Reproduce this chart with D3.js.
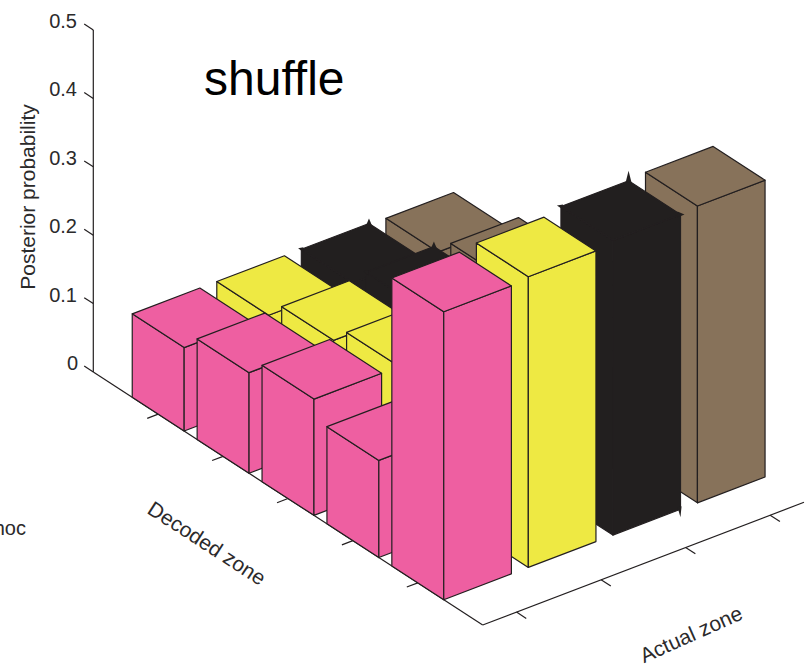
<!DOCTYPE html>
<html><head><meta charset="utf-8">
<script src="https://cdn.jsdelivr.net/npm/d3@7"></script>
<style>html,body{margin:0;padding:0;background:#fff;overflow:hidden}svg{display:block}text{font-family:"Liberation Sans",Arial,sans-serif;fill:#2b2a2b}</style>
</head><body><div id="c"></div>
<script>
const decodedZones = [1, 2, 3, 4, 5];
const actualZones = [1, 2, 3, 4];
const pinkValues   = [0.122, 0.147, 0.170, 0.142, 0.421];
const yellowValues = [0.122, 0.147, 0.171, 0.142, 0.425];
const blackValues  = [0.122, 0.150, 0.170, 0.142, 0.431];
const brownValues  = [0.120, 0.145, 0.170, 0.142, 0.434];
const seriesColors = ["#ee5fa1", "#eee943", "#221f1f", "#87725a"];
const zTicks = [0, 0.1, 0.2, 0.3, 0.4, 0.5];
const zTickLabels = ["0", "0.1", "0.2", "0.3", "0.4", "0.5"];
const titleText = "shuffle", zLabel = "Posterior probability", decodedLabel = "Decoded zone", actualLabel = "Actual zone", strayText = "hoc";
const seriesValues = [pinkValues, yellowValues, blackValues, brownValues];

const W = 806, H = 669, barHalf = 0.4, lineCol = "#231f20";
const svg = d3.select("#c").append("svg").attr("width", W).attr("height", H);

// oblique projection, built from one linear scale per screen contribution
const decX = d3.scaleLinear().domain([0, 6]).range([0, 389.4]);
const decY = d3.scaleLinear().domain([0, 6]).range([0, 253]);
const actX = d3.scaleLinear().domain([0.6, 4.4]).range([0, 321.3]);
const actY = d3.scaleLinear().domain([0.6, 4.4]).range([0, -122.7]);
const zY = d3.scaleLinear().domain([0, 0.5]).range([0, -342]);
const ox = 93.3, oy = 372;
const proj = (d, a, z) => [ox + decX(d) + actX(a), oy + decY(d) + actY(a) + zY(z)];
const poly = pts => "M" + pts.map(p => p.join(",")).join("L") + "Z";
const seg = (g, p, q, w) => g.append("line").attr("x1", p[0]).attr("y1", p[1]).attr("x2", q[0]).attr("y2", q[1])
  .attr("stroke", lineCol).attr("stroke-width", w || 1.2);

// axes
const ax = svg.append("g");
seg(ax, proj(0, 0.6, 0), proj(0, 0.6, 0.5));
seg(ax, proj(0, 0.6, 0), proj(6, 0.6, 0));
seg(ax, proj(6, 0.6, 0), proj(6, 4.4, 0));
zTicks.forEach((t, i) => {
  const p = proj(0, 0.6, t);
  seg(ax, p, proj(-0.14, 0.6, t));
  ax.append("text").attr("x", i === 0 ? 78 : 77).attr("y", p[1] - 2).attr("text-anchor", "end")
    .attr("font-size", 20).text(zTickLabels[i]);
});
decodedZones.forEach(d => seg(ax, proj(d, 0.6, 0), proj(d, 0.47, 0)));
actualZones.forEach(a => seg(ax, proj(6, a, 0), proj(6.15, a, 0)));

// bars, far to near
const bars = svg.append("g");
actualZones.slice().reverse().forEach(a => {
  const s = a - 1, col = seriesColors[s];
  decodedZones.forEach((d, j) => {
    const v = seriesValues[s][j];
    const d0 = d - barHalf, d1 = d + barHalf, a0 = a - barHalf, a1 = a + barHalf;
    const faces = [
      [proj(d0, a0, 0), proj(d1, a0, 0), proj(d1, a0, v), proj(d0, a0, v)],
      [proj(d1, a0, 0), proj(d1, a1, 0), proj(d1, a1, v), proj(d1, a0, v)],
      [proj(d0, a0, v), proj(d1, a0, v), proj(d1, a1, v), proj(d0, a1, v)]
    ];
    const g = bars.append("g");
    faces.forEach(f => g.append("path").attr("d", poly(f)).attr("fill", col)
      .attr("stroke", lineCol).attr("stroke-width", 1.2).attr("stroke-linejoin", "round"));
    if (col === "#221f1f") {
      // the black bars' outlines end in small sharp spikes at their corners
      const L = v > 0.3 ? 10 : 5, S = v > 0.3 ? 1 : 0.8;
      const [bx, by] = proj(d0, a1, v), [lx, ly] = proj(d0, a0, v), [rx, ry] = proj(d1, a1, v), [fx, fy] = proj(d1, a1, 0);
      const spikes = [
        [[bx - 3, by + 2], [bx, by - L], [bx + 3, by + 2]],
        [[lx + 2, ly - 2], [lx - 4 * S, ly - 1], [lx + 2, ly + 3]],
        [[rx - 3, ry - 3], [rx + 4 * S, ry], [rx - 3, ry + 3]],
        [[fx - 3, fy - 2], [fx, fy + 8 * S], [fx + 1, fy - 3]]
      ];
      spikes.forEach(sp => g.append("path").attr("d", poly(sp)).attr("fill", col));
    }
  });
});

// text
svg.append("text").attr("x", 204).attr("y", 95).attr("font-size", 48).style("fill", "#000").text(titleText);
svg.append("text").attr("transform", "translate(35,197) rotate(-90)").attr("text-anchor", "middle").attr("font-size", 21).text(zLabel);
svg.append("text").attr("transform", "translate(207,543) rotate(33)").attr("text-anchor", "middle").attr("dominant-baseline", "central").attr("font-size", 21).text(decodedLabel);
svg.append("text").attr("transform", "translate(691,634) rotate(-24)").attr("text-anchor", "middle").attr("dominant-baseline", "central").attr("font-size", 21).text(actualLabel);
svg.append("text").attr("x", 26).attr("y", 535).attr("text-anchor", "end").attr("font-size", 20).text(strayText);
</script></body></html>
